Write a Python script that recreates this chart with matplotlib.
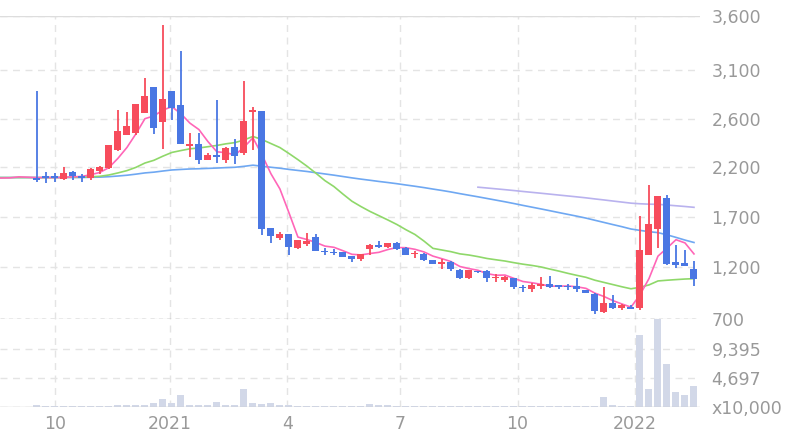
import matplotlib
matplotlib.use("Agg")
import matplotlib.pyplot as plt
import numpy as np
import pandas as pd

# weekly candles (price)
opens = [2090, 2110, 2110, 2080, 2150, 2110, 2090, 2160, 2190, 2342, 2467, 2483, 2660, 2920, 2575,
         2880, 2740, 2375, 2392, 2258, 2300, 2258, 2367, 2317, 2670, 2680, 1590, 1490, 1530, 1390,
         1430, 1500, 1360, 1350, 1350, 1310, 1280, 1380, 1420, 1400, 1440, 1390, 1330, 1330, 1270,
         1230, 1250, 1170, 1090, 1160, 1160, 1090, 1070, 1090, 1010, 990, 1020, 1040, 1030, 1020,
         1020, 980, 940, 770, 850, 810, 810, 810, 1320, 1580, 1890, 1250, 1240, 1180]
closes = [2070, 2090, 2090, 2140, 2110, 2090, 2180, 2200, 2383, 2500, 2542, 2750, 2830, 2525, 2800,
          2710, 2392, 2392, 2258, 2300, 2283, 2358, 2292, 2583, 2690, 1580, 1510, 1530, 1400, 1470,
          1460, 1360, 1350, 1340, 1300, 1280, 1330, 1420, 1400, 1440, 1380, 1320, 1340, 1270, 1230,
          1250, 1180, 1090, 1170, 1150, 1090, 1100, 1100, 1010, 1000, 1030, 1025, 1010, 1010, 1010,
          990, 950, 780, 850, 810, 830, 800, 1370, 1630, 1910, 1230, 1220, 1210, 1080]
highs = [2880, 2150, 2140, 2200, 2160, 2130, 2190, 2210, 2383, 2690, 2670, 2750, 3020, 2920, 3510,
         2880, 3270, 2483, 2483, 2317, 2790, 2367, 2433, 2990, 2720, 2680, 1590, 1550, 1530, 1470,
         1540, 1530, 1390, 1380, 1350, 1310, 1330, 1430, 1460, 1440, 1450, 1400, 1360, 1340, 1270,
         1280, 1260, 1180, 1170, 1160, 1170, 1130, 1110, 1090, 1030, 1050, 1100, 1110, 1030, 1040,
         1090, 980, 950, 1010, 930, 840, 830, 1710, 2020, 1910, 1920, 1420, 1370, 1260]
lows = [2050, 2040, 2050, 2070, 2070, 2050, 2070, 2130, 2180, 2333, 2467, 2467, 2660, 2475, 2350,
        2592, 2392, 2283, 2225, 2258, 2233, 2233, 2225, 2300, 2342, 1520, 1440, 1470, 1320, 1380,
        1410, 1360, 1320, 1320, 1300, 1250, 1260, 1320, 1390, 1390, 1370, 1320, 1290, 1260, 1230,
        1180, 1160, 1080, 1080, 1140, 1060, 1060, 1060, 990, 960, 960, 990, 1000, 990, 980,
        960, 950, 750, 760, 800, 790, 800, 790, 1320, 1390, 1220, 1190, 1210, 1020]
# volume, x10,000 shares
volumes = [250, 120, 150, 130, 160, 120, 140, 150, 200, 250, 300, 350, 400, 600, 1300,
           600, 1900, 400, 300, 250, 800, 300, 350, 2900, 600, 500, 600, 300, 250, 200,
           200, 200, 150, 150, 150, 150, 200, 500, 300, 250, 200, 200, 150, 150, 150,
           150, 150, 150, 150, 150, 150, 150, 150, 150, 150, 150, 150, 150, 150, 150,
           150, 150, 200, 1700, 250, 200, 200, 11700, 3000, 14300, 7000, 2400, 2000, 3400]
# closes before the visible window (used only for moving averages)
history = [2080, 2100, 2090, 2070, 2110, 2090, 2080, 2100, 2120, 2090] * 7

price_ticks = [700, 1200, 1700, 2200, 2600, 3100, 3600]
tick_pos = [0, 52, 102, 152, 200, 249, 303]
xtick_idx = [2, 14.8, 27.8, 40.3, 53.4, 66.4]
xtick_labels = ["10", "2021", "4", "7", "10", "2022"]

UP, DOWN = "#f74c5c", "#4a77e3"


def tp(p):
    return np.interp(p, price_ticks, tick_pos)


n = len(closes)
x = np.arange(n)
allc = pd.Series(history + closes)
h = len(history)
ma = {w: allc.rolling(w).mean().values[h - 5:] for w in (5, 20, 60, 120)}
xm = np.arange(-5, n)

fig = plt.figure(figsize=(8.04, 4.46), dpi=100)
ax = fig.add_axes([0, 0.2848, 0.871, 0.68])
axv = fig.add_axes([0, 0.0874, 0.871, 0.1974], sharex=ax)

for a in (ax, axv):
    for s in a.spines.values():
        s.set_visible(False)
    a.tick_params(length=0, labelsize=12.5, labelcolor="#999999", pad=8)
    a.yaxis.tick_right()

ax.plot(xm, tp(ma[120]), color="#b9b2ee", lw=1.2)
ax.plot(xm, tp(ma[60]), color="#6fa8f2", lw=1.2)
ax.plot(xm, tp(ma[20]), color="#8fd86a", lw=1.2)
ax.plot(xm, tp(ma[5]), color="#ff66b8", lw=1.2)

for i in range(n):
    c = UP if closes[i] >= opens[i] else DOWN
    ax.vlines(i, tp(lows[i]), tp(highs[i]), color=c, lw=1.3, zorder=3)
    lo, hi = tp(min(opens[i], closes[i])), tp(max(opens[i], closes[i]))
    ax.bar(i, max(hi - lo, 1.2), bottom=lo, width=0.78, color=c, zorder=3)

ax.set_ylim(0, 303)
ax.set_yticks(tick_pos)
ax.set_yticklabels([f"{p:,}" for p in price_ticks])
ax.set_xlim(-4.1, 73.7)
ax.grid(True, ls=(0, (5, 4)), color="#e4e4e4", lw=1)
ax.axhline(303, color="#dddddd", lw=1)
ax.axhline(0, color="#999999", lw=1, ls=(0, (3, 3)))
plt.setp(ax.get_xticklabels(), visible=False)

axv.bar(x, volumes, width=0.78, color="#d2d8e8")
axv.set_ylim(0, 14300)
axv.set_yticks([0, 4697, 9395])
axv.set_yticklabels(["x10,000", "4,697", "9,395"])
axv.set_xticks(xtick_idx)
axv.set_xticklabels(xtick_labels)
axv.tick_params(axis="x", pad=6)
axv.grid(True, ls=(0, (5, 4)), color="#e4e4e4", lw=1)
axv.axhline(0, color="#cccccc", lw=1)
axv.set_axisbelow(True)
ax.set_axisbelow(True)

fig.savefig("out.png", dpi=100)
